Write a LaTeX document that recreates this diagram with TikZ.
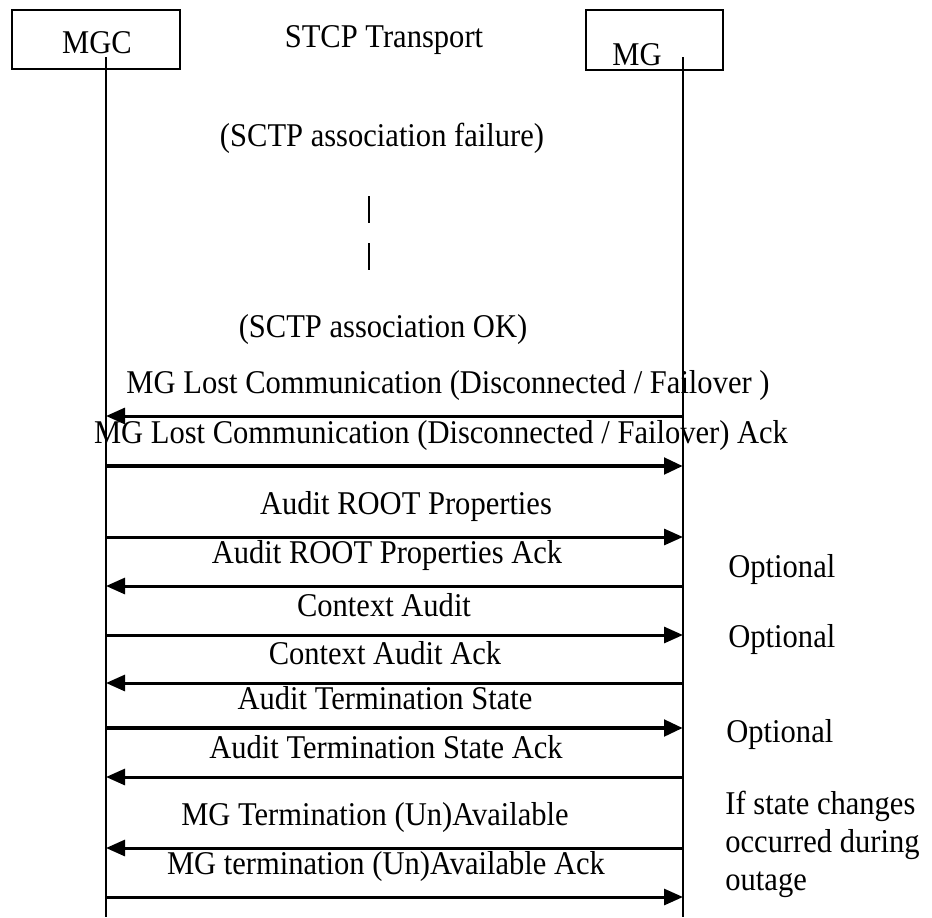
\documentclass[tikz,border=0pt]{standalone}
\usepackage{fontspec}
\setmainfont[FakeStretch=0.92]{Liberation Serif}
\usetikzlibrary{arrows.meta}

\tikzstyle{entity}=[draw,line width=1.3pt,inner sep=0pt]
\tikzstyle{msg}=[line width=1.5pt,-{Triangle[length=9.5pt,width=8pt]}]
\tikzstyle{boldmsg}=[msg,line width=2.4pt]
\tikzstyle{lbl}=[inner sep=0pt]

\begin{document}
\begin{tikzpicture}[x=0.5pt,y=-0.5pt,font=\fontsize{16.6}{19}\selectfont]
\useasboundingbox (0,0) rectangle (932,917);
%\draw[help lines,step=50] (0,0) grid (932,917);
\node[entity,minimum width=84pt,minimum height=29.5pt] (mgc) at (96,39.5) {};
\node[entity,minimum width=68.5pt,minimum height=30pt] (mg) at (654.5,40) {};
\node[lbl] (mgctxt) at (97,43) {MGC};
\node[lbl] (mgtxt) at (637,55) {MG};
\node[lbl] (stcp) at (384,40) {STCP Transport};
\coordinate (mgctop) at (106,57);
\coordinate (mgcbot) at (106,917);
\coordinate (mgtop) at (683,57);
\coordinate (mgbot) at (683,917);
\draw[line width=1pt] (mgctop) -- (mgcbot);
\draw[line width=1pt] (mgtop) -- (mgbot);

\node[lbl] (fail) at (382,138) {(SCTP association failure)};
\coordinate (bar1a) at (369,196);
\coordinate (bar1b) at (369,223);
\coordinate (bar2a) at (369,243);
\coordinate (bar2b) at (369,270);
\draw[line width=0.6pt] (bar1a) -- (bar1b);
\draw[line width=0.6pt] (bar2a) -- (bar2b);
\node[lbl] (ok) at (383,330) {(SCTP association OK)};

% messages: y / direction / label x / style / text
\foreach \y/\d/\lx/\s/\t [count=\i] in {
  416/l/448/msg/{MG Lost Communication (Disconnected / Failover )},
  466/r/441/boldmsg/{MG Lost Communication (Disconnected / Failover) Ack},
  537/r/406/msg/{Audit ROOT Properties},
  586/l/387/msg/{Audit ROOT Properties Ack},
  635/r/384/msg/{Context Audit},
  683/l/385/msg/{Context Audit Ack},
  728/r/385/boldmsg/{Audit Termination State},
  777/l/386/msg/{Audit Termination State Ack},
  848/l/375/msg/{MG Termination (Un)Available},
  897/r/386/msg/{MG termination (Un)Available Ack}}{
  \coordinate (a\i) at (106,\y);
  \coordinate (b\i) at (683,\y);
  \node[lbl] (m\i) at (\lx,\y-30) {\t};
  \if\d l
    \draw[\s] (b\i) -- (a\i);
  \else
    \draw[\s] (a\i) -- (b\i);
  \fi
}

\node[lbl,anchor=west] (opt1) at (728,570) {Optional};
\node[lbl,anchor=west] (opt2) at (728,640) {Optional};
\node[lbl,anchor=west] (opt3) at (726,735) {Optional};
\node[lbl,anchor=west,align=left] (note) at (725,844) {If state changes\\occurred during\\outage};
\end{tikzpicture}
\end{document}
